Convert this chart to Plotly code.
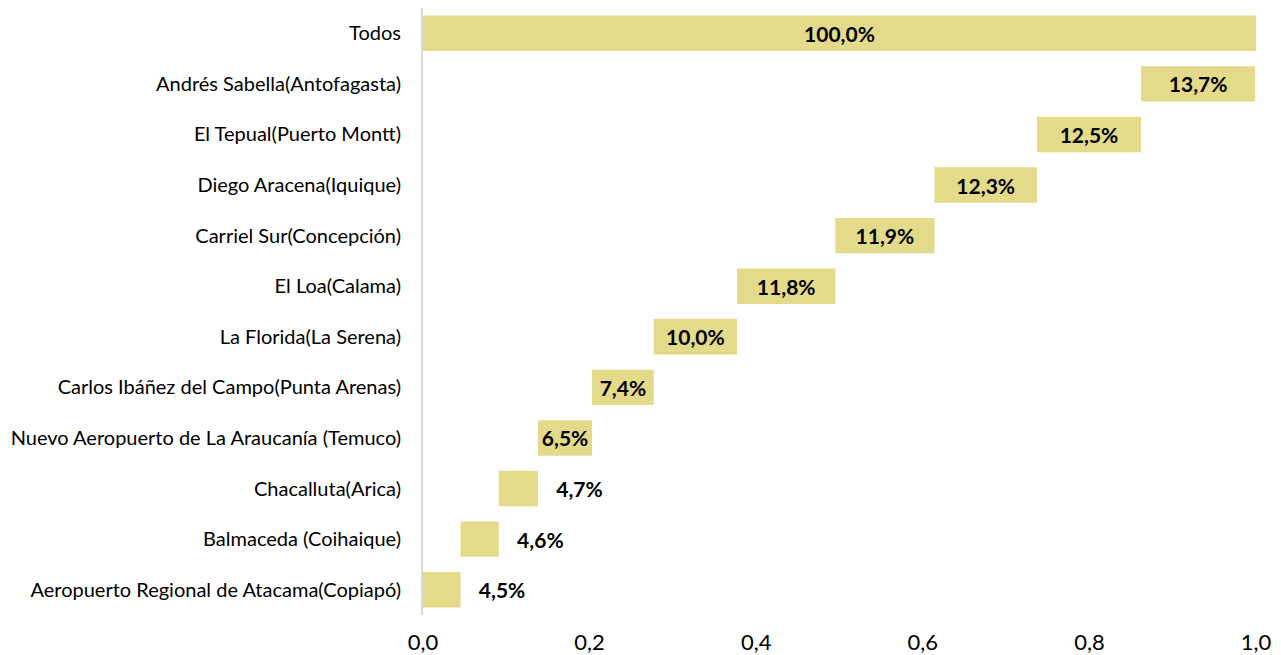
import plotly.graph_objects as go

airports = [
    "Todos",
    "Andrés Sabella(Antofagasta)",
    "El Tepual(Puerto Montt)",
    "Diego Aracena(Iquique)",
    "Carriel Sur(Concepción)",
    "El Loa(Calama)",
    "La Florida(La Serena)",
    "Carlos Ibáñez del Campo(Punta Arenas)",
    "Nuevo Aeropuerto de La Araucanía (Temuco)",
    "Chacalluta(Arica)",
    "Balmaceda (Coihaique)",
    "Aeropuerto Regional de Atacama(Copiapó)",
]
share = [1.000, 0.137, 0.125, 0.123, 0.119, 0.118, 0.100, 0.074, 0.065, 0.047, 0.046, 0.045]

# waterfall: each airport starts where the smaller ones end, "Todos" starts at 0
parts = share[1:][::-1]
starts = []
acc = 0.0
for v in parts:
    starts.append(acc)
    acc += v
base = [0.0] + starts[::-1]

labels = []
positions = []
for v in share:
    txt = f"{v * 100:.1f}%".replace(".", ",")
    if v > 0.05:
        labels.append(txt)
        positions.append("inside")
    else:
        labels.append("\u00a0\u00a0\u00a0" + txt)
        positions.append("outside")

fig = go.Figure(
    go.Bar(
        y=airports,
        x=share,
        base=base,
        orientation="h",
        marker=dict(color="#E3DA8A", line=dict(width=0)),
        text=labels,
        textposition=positions,
        insidetextanchor="middle",
        constraintext="none",
        cliponaxis=False,
        textfont=dict(family="Lato", size=21, color="#000000", weight="bold"),
        width=0.7,
    )
)

fig.update_yaxes(
    categoryorder="array",
    categoryarray=airports[::-1],
    showline=True,
    linecolor="#D9D9D9",
    linewidth=2,
    showgrid=False,
    ticks="",
    ticklabelstandoff=16,
    tickfont=dict(family="Lato", size=20, color="#000000"),
)
fig.update_xaxes(
    range=[0, 1],
    dtick=0.2,
    tickformat=".1f",
    showgrid=False,
    zeroline=False,
    showline=False,
    ticks="",
    ticklabelstandoff=12,
    tickfont=dict(family="Lato", size=22, color="#000000"),
)
fig.update_layout(
    width=1273,
    height=647,
    separators=",.",
    plot_bgcolor="white",
    paper_bgcolor="white",
    showlegend=False,
    margin=dict(l=415, r=25, t=0, b=38),
)

fig.write_html("out.html")
